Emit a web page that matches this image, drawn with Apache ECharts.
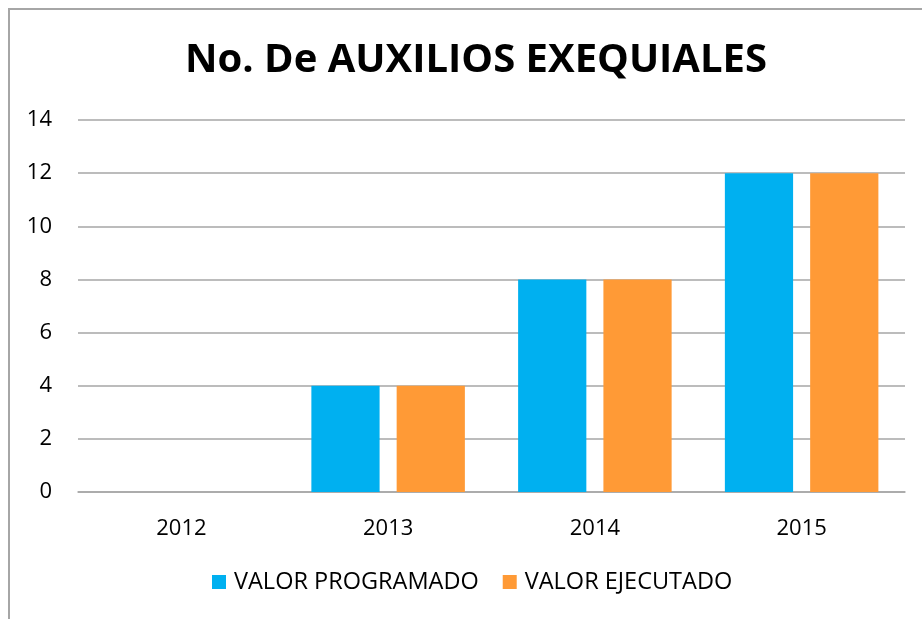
<!DOCTYPE html>
<html>
<head>
<meta charset="utf-8">
<script src="https://cdn.jsdelivr.net/npm/echarts@6/dist/echarts.min.js"></script>
<style>
    html, body { margin: 0; padding: 0; background: #fff; }
    #frame { position: absolute; left: 8px; top: 8px; width: 930px; height: 630px;
             border-left: 2px solid #a6a6a6; border-top: 2px solid #a6a6a6; }
    #main { position: absolute; left: 0; top: 0; width: 922px; height: 619px; }
</style>
</head>
<body>
<div id="frame"></div>
<div id="main"></div>
<script>
var years = ['2012', '2013', '2014', '2015'];
var programado = [0, 4, 8, 12];
var ejecutado = [0, 4, 8, 12];
var seriesNames = ['VALOR PROGRAMADO', 'VALOR EJECUTADO'];

var fontName = 'Open Sans';
var chart = echarts.init(document.getElementById('main'));
var option = {
    animation: false,
    title: {
        text: 'No. De AUXILIOS EXEQUIALES',
        left: 180,
        top: 36,
        textStyle: { fontFamily: fontName, fontSize: 40, fontWeight: 'bold', color: '#000' }
    },
    legend: {
        bottom: 20,
        left: 207,
        itemWidth: 14,
        itemHeight: 14,
        itemGap: 24,
        icon: 'rect',
        textStyle: { fontFamily: fontName, fontSize: 23.5, color: '#000', padding: [0, 0, 0, 3] },
        data: seriesNames
    },
    grid: { left: 78, right: 17, top: 120, bottom: 127, containLabel: false },
    xAxis: {
        type: 'category',
        data: years,
        axisLine: { lineStyle: { color: '#a6a6a6', width: 1.5 } },
        axisTick: { show: false },
        axisLabel: { fontFamily: fontName, fontSize: 22, color: '#000', margin: 26 }
    },
    yAxis: {
        type: 'value',
        min: 0,
        max: 14,
        interval: 2,
        axisLine: { show: false },
        axisTick: { show: false },
        splitLine: { lineStyle: { color: '#a6a6a6', width: 1.5 } },
        axisLabel: { fontFamily: fontName, fontSize: 22, color: '#000', margin: 26 }
    },
    series: [
        {
            name: seriesNames[0],
            type: 'bar',
            data: programado,
            barWidth: '33%',
            barGap: '25%',
            itemStyle: { color: '#00b0f0' }
        },
        {
            name: seriesNames[1],
            type: 'bar',
            data: ejecutado,
            barWidth: '33%',
            itemStyle: { color: '#ff9a36' }
        }
    ]
};
chart.setOption(option);
</script>
</body>
</html>
